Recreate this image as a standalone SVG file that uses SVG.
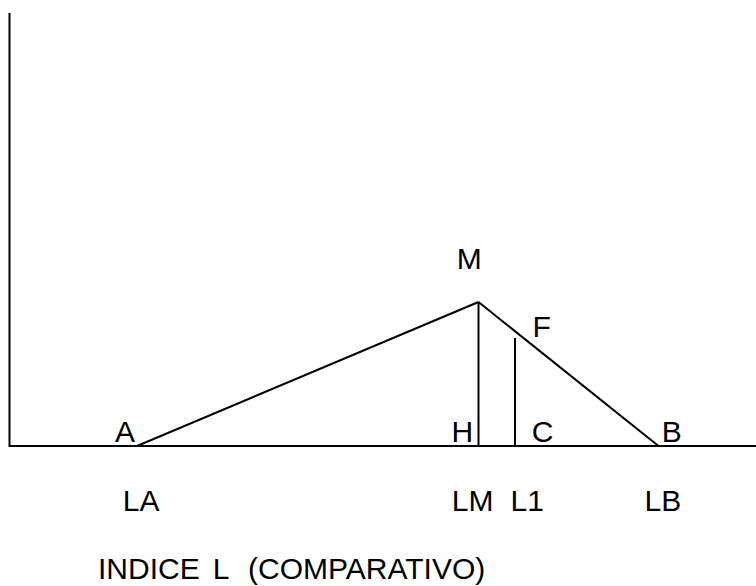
<svg xmlns="http://www.w3.org/2000/svg" width="756" height="586" viewBox="0 0 756 586">
<style>
.ln{stroke:#000;stroke-width:2;fill:none}
.t{font-family:"Liberation Sans",Arial,sans-serif;font-size:30px;fill:#000}
</style>
<rect width="756" height="586" fill="#fff"/>
<g id="connectors">
<polyline class="ln" points="9.5,13 9.5,446 756,446"/>
<line class="ln" x1="137" y1="446" x2="478.5" y2="302"/>
<line class="ln" x1="478.5" y1="302" x2="658.5" y2="446"/>
<line class="ln" x1="478.5" y1="302" x2="478.5" y2="446"/>
<line class="ln" x1="515" y1="338" x2="515" y2="446"/>
</g>
<g id="A"><text class="t" x="115" y="442">A</text></g>
<g id="M"><text class="t" x="456.8" y="269">M</text></g>
<g id="F"><text class="t" x="532.5" y="337">F</text></g>
<g id="H"><text class="t" x="451.6" y="442">H</text></g>
<g id="C"><text class="t" x="531.8" y="442">C</text></g>
<g id="B"><text class="t" x="661.8" y="442">B</text></g>
<g id="LA"><text class="t" x="122.8" y="511">LA</text></g>
<g id="LM"><text class="t" x="451.8" y="511">LM</text></g>
<g id="L1"><text class="t" x="510.5" y="511">L1</text></g>
<g id="LB"><text class="t" x="644.5" y="511">LB</text></g>
<g id="title"><text class="t" y="579"><tspan x="98">INDICE</tspan> <tspan x="212.8">L</tspan> <tspan x="248">(COMPARATIVO)</tspan></text></g>
</svg>
